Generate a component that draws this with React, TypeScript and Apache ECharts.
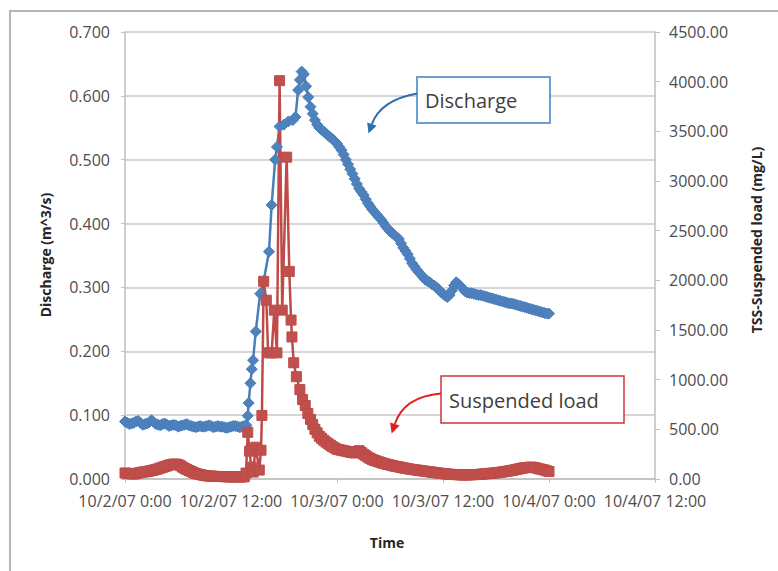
import React, { useEffect, useRef } from "react";
import * as echarts from "echarts";

// Time in hours since 10/2/07 0:00
const xTickLabels = ["10/2/07 0:00", "10/2/07 12:00", "10/3/07 0:00", "10/3/07 12:00", "10/4/07 0:00", "10/4/07 12:00"];

const dischargeHours = [
  0, 0.25, 0.5, 0.75, 1, 1.25, 1.5, 1.75, 2, 2.25, 2.5, 2.75,
  3, 3.25, 3.5, 3.75, 4, 4.25, 4.5, 4.75, 5, 5.25, 5.5, 5.75,
  6, 6.25, 6.5, 6.75, 7, 7.25, 7.5, 7.75, 8, 8.25, 8.5, 8.75,
  9, 9.25, 9.5, 9.75, 10, 10.25, 10.5, 10.75, 11, 11.25, 11.5, 11.75,
  12, 12.25, 12.5, 12.75, 13, 13.25, 13.5, 13.75,
  13.9, 14.0, 14.2, 14.35, 14.5, 14.8, 15.3, 15.7, 16.3, 16.6, 17.0, 17.2, 17.5, 18.0, 18.5, 19.0, 19.3, 19.6, 19.8, 20.0,
  20.25, 20.5, 20.75, 21.0, 21.25, 21.5, 21.75,
  22, 22.25, 22.5, 22.75, 23, 23.25, 23.5, 23.75,
  24, 24.25, 24.5, 24.75, 25, 25.25, 25.5, 25.75,
  26, 26.25, 26.5, 26.75, 27, 27.25, 27.5, 27.75,
  28, 28.25, 28.5, 28.75, 29, 29.25, 29.5, 29.75,
  30, 30.25, 30.5, 30.75, 31, 31.25, 31.5, 31.75,
  32, 32.25, 32.5, 32.75, 33, 33.25, 33.5, 33.75,
  34, 34.25, 34.5, 34.75, 35, 35.25, 35.5, 35.75,
  36, 36.25, 36.5, 36.75, 37, 37.25, 37.5, 37.75,
  38, 38.25, 38.5, 38.75, 39, 39.25, 39.5, 39.75,
  40, 40.25, 40.5, 40.75, 41, 41.25, 41.5, 41.75,
  42, 42.25, 42.5, 42.75, 43, 43.25, 43.5, 43.75,
  44, 44.25, 44.5, 44.75, 45, 45.25, 45.5, 45.75,
  46, 46.25, 46.5, 46.75, 47, 47.25, 47.5, 47.75, 48,
];
const dischargeValues = [
  0.090, 0.088, 0.086, 0.087, 0.088, 0.090, 0.091, 0.088, 0.085, 0.086, 0.087, 0.089,
  0.092, 0.089, 0.086, 0.085, 0.084, 0.086, 0.087, 0.085, 0.083, 0.084, 0.085, 0.084,
  0.082, 0.083, 0.084, 0.085, 0.086, 0.084, 0.083, 0.082, 0.081, 0.082, 0.083, 0.082,
  0.082, 0.083, 0.084, 0.083, 0.081, 0.082, 0.083, 0.082, 0.082, 0.081, 0.080, 0.081,
  0.082, 0.083, 0.083, 0.082, 0.081, 0.082, 0.083, 0.084,
  0.099, 0.119, 0.150, 0.172, 0.186, 0.231, 0.290, 0.310, 0.356, 0.429, 0.500, 0.520, 0.552, 0.555, 0.560, 0.562, 0.567, 0.609, 0.625, 0.638,
  0.634, 0.615, 0.598, 0.583, 0.572, 0.562, 0.555,
  0.550, 0.547, 0.544, 0.541, 0.538, 0.535, 0.532, 0.529,
  0.525, 0.520, 0.515, 0.508, 0.500, 0.493, 0.485, 0.478,
  0.470, 0.462, 0.455, 0.450, 0.445, 0.438, 0.432, 0.427,
  0.422, 0.418, 0.414, 0.410, 0.406, 0.401, 0.396, 0.392,
  0.388, 0.385, 0.382, 0.379, 0.376, 0.369, 0.362, 0.357,
  0.352, 0.345, 0.338, 0.333, 0.328, 0.324, 0.320, 0.316,
  0.312, 0.310, 0.308, 0.305, 0.303, 0.300, 0.297, 0.293,
  0.290, 0.287, 0.285, 0.288, 0.295, 0.303, 0.308, 0.305,
  0.302, 0.298, 0.294, 0.292, 0.291, 0.291, 0.290, 0.289,
  0.288, 0.288, 0.287, 0.286, 0.285, 0.284, 0.283, 0.282,
  0.281, 0.280, 0.279, 0.278, 0.277, 0.276, 0.275, 0.275,
  0.274, 0.273, 0.272, 0.271, 0.270, 0.269, 0.268, 0.267,
  0.266, 0.265, 0.264, 0.263, 0.262, 0.261, 0.260, 0.259, 0.259,
];

const tssHours = [
  0, 0.25, 0.5, 0.75, 1, 1.25, 1.5, 1.75, 2, 2.25, 2.5, 2.75,
  3, 3.25, 3.5, 3.75, 4, 4.25, 4.5, 4.75, 5, 5.25, 5.5, 5.75,
  6, 6.25, 6.5, 6.75, 7, 7.25, 7.5, 7.75, 8, 8.25, 8.5, 8.75,
  9, 9.25, 9.5, 9.75, 10, 10.25, 10.5, 10.75, 11, 11.25, 11.5, 11.75,
  12, 12.25, 12.5, 12.75, 13, 13.25, 13.5,
  13.7, 13.9, 14.1, 14.3, 14.5, 14.8, 15.2, 15.4, 15.5, 15.7, 16.0, 16.2, 16.6, 16.9, 17.2, 17.5, 17.8, 18.3, 18.6, 18.8,
  18.9, 19.1, 19.4, 19.8, 20.1, 20.4, 20.7, 21.0, 21.25, 21.5, 21.75,
  22, 22.25, 22.5, 22.75, 23, 23.25, 23.5, 23.75,
  24, 24.25, 24.5, 24.75, 25, 25.25, 25.5, 25.75,
  26, 26.25, 26.5, 26.75, 27, 27.25, 27.5, 27.75,
  28, 28.25, 28.5, 28.75, 29, 29.25, 29.5, 29.75,
  30, 30.25, 30.5, 30.75, 31, 31.25, 31.5, 31.75,
  32, 32.25, 32.5, 32.75, 33, 33.25, 33.5, 33.75,
  34, 34.25, 34.5, 34.75, 35, 35.25, 35.5, 35.75,
  36, 36.25, 36.5, 36.75, 37, 37.25, 37.5, 37.75,
  38, 38.25, 38.5, 38.75, 39, 39.25, 39.5, 39.75,
  40, 40.25, 40.5, 40.75, 41, 41.25, 41.5, 41.75,
  42, 42.25, 42.5, 42.75, 43, 43.25, 43.5, 43.75,
  44, 44.25, 44.5, 44.75, 45, 45.25, 45.5, 45.75,
  46, 46.25, 46.5, 46.75, 47, 47.25, 47.5, 47.75, 48,
];
const tssValues = [
  60, 58, 55, 52, 50, 55, 60, 65, 70, 72, 75, 80,
  85, 90, 95, 102, 110, 118, 125, 132, 140, 146, 150, 150,
  145, 135, 120, 108, 95, 85, 75, 65, 55, 50, 45, 40,
  35, 32, 30, 29, 28, 26, 25, 25, 25, 24, 22, 22,
  22, 22, 22, 21, 20, 21, 22,
  60, 470, 280, 120, 70, 320, 90, 290, 640, 1990, 1800, 1270, 1270, 1700, 1270, 4010, 1700, 3240, 2090, 1600,
  1430, 1170, 1030, 900, 800, 740, 660, 600, 550, 500, 465,
  430, 410, 390, 372, 355, 340, 325, 312,
  300, 295, 290, 285, 280, 275, 270, 266,
  262, 275, 285, 268, 250, 235, 220, 207,
  195, 187, 180, 172, 165, 158, 152, 146,
  141, 135, 130, 126, 122, 117, 112, 108,
  104, 100, 96, 93, 90, 87, 84, 81,
  78, 75, 72, 69, 66, 63, 60, 57,
  55, 52, 50, 48, 46, 45, 44, 43,
  42, 41, 41, 41, 42, 43, 44, 45,
  46, 48, 50, 52, 54, 56, 58, 60,
  62, 65, 68, 71, 75, 78, 82, 86,
  90, 95, 100, 105, 110, 113, 115, 118,
  120, 116, 112, 106, 100, 95, 90, 82, 75,
];

const FONT = "'Open Sans', 'DejaVu Sans', sans-serif";

function arrowHead(tx: number, ty: number, cx: number, cy: number, len: number, half: number) {
  const dx = tx - cx, dy = ty - cy;
  const n = Math.sqrt(dx * dx + dy * dy);
  const ux = dx / n, uy = dy / n;
  const bx = tx - ux * len, by = ty - uy * len;
  const px = -uy, py = ux;
  return {
    base: [bx, by],
    points: [[tx, ty], [bx + px * half, by + py * half], [bx - px * half, by - py * half]],
  };
}

export default function App() {
  const ref = useRef<HTMLDivElement>(null);
  useEffect(() => {
    if (!ref.current) return;
    const chart = echarts.init(ref.current, null, { renderer: "svg" });
    const dData = dischargeHours.map((h, i) => [h, dischargeValues[i]]);
    const tData = tssHours.map((h, i) => [h, tssValues[i]]);

    const a1 = arrowHead(368.5, 133.5, 380.6, 100.1, 10, 5);
    const a2 = arrowHead(391.7, 433.5, 403.8, 396.7, 10, 5);

    chart.setOption({
      animation: false,
      backgroundColor: "#ffffff",
      grid: { left: 125, right: 123, top: 32, bottom: 92, containLabel: false },
      xAxis: {
        type: "value",
        min: 0,
        max: 60,
        interval: 12,
        axisLine: { show: true, onZero: false, lineStyle: { color: "#bfbfbf", width: 1.5 } },
        axisTick: { show: true, length: 4, lineStyle: { color: "#bfbfbf" } },
        splitLine: { show: false },
        axisLabel: {
          margin: 14,
          color: "#4d4d4d",
          fontFamily: FONT,
          fontSize: 16,
          formatter: (v: number) => xTickLabels[Math.round(v / 12)] ?? "",
        },
      },
      yAxis: [
        {
          type: "value",
          min: 0,
          max: 0.7,
          interval: 0.1,
          axisLine: { show: true, lineStyle: { color: "#bfbfbf", width: 1.5 } },
          axisTick: { show: true, length: 4, lineStyle: { color: "#bfbfbf" } },
          splitLine: { show: true, lineStyle: { color: "#c8c8c8", width: 1.5 } },
          axisLabel: {
            margin: 15,
            color: "#4d4d4d",
            fontFamily: FONT,
            fontSize: 16,
            formatter: (v: number) => v.toFixed(3),
          },
        },
        {
          type: "value",
          position: "right",
          min: 0,
          max: 4500,
          interval: 500,
          axisLine: { show: true, lineStyle: { color: "#bfbfbf", width: 1.5 } },
          axisTick: { show: true, length: 5, lineStyle: { color: "#bfbfbf" } },
          splitLine: { show: false },
          axisLabel: {
            margin: 14,
            color: "#4d4d4d",
            fontFamily: FONT,
            fontSize: 16,
            formatter: (v: number) => v.toFixed(2),
          },
        },
      ],
      series: [
        {
          name: "Discharge",
          type: "line",
          yAxisIndex: 0,
          data: dData,
          symbol: "diamond",
          symbolSize: 11,
          lineStyle: { color: "#4a7ebb", width: 2.5 },
          itemStyle: { color: "#4f81bd", borderColor: "#4a7ebb", borderWidth: 1 },
        },
        {
          name: "Suspended load",
          type: "line",
          yAxisIndex: 1,
          data: tData,
          symbol: "rect",
          symbolSize: 10,
          lineStyle: { color: "#be4b48", width: 2.5 },
          itemStyle: { color: "#c0504d", borderColor: "#be4b48", borderWidth: 1 },
        },
      ],
      graphic: [
        {
          type: "rect",
          silent: true,
          z: -10,
          shape: { x: 10, y: 11, width: 800, height: 600 },
          style: { fill: "none", stroke: "#b5b5b5", lineWidth: 2 },
        },
        {
          type: "text",
          x: 45,
          y: 255,
          rotation: Math.PI / 2,
          style: {
            text: "Discharge (m^3/s)",
            x: 0,
            y: 0,
            align: "center",
            verticalAlign: "middle",
            fontFamily: FONT,
            fontWeight: "bold",
            fontSize: 14,
            fill: "#262626",
          },
        },
        {
          type: "text",
          x: 756,
          y: 240,
          rotation: Math.PI / 2,
          style: {
            text: "TSS-Suspended load (mg/L)",
            x: 0,
            y: 0,
            align: "center",
            verticalAlign: "middle",
            fontFamily: FONT,
            fontWeight: "bold",
            fontSize: 14,
            fill: "#262626",
          },
        },
        {
          type: "text",
          x: 387,
          y: 542,
          style: {
            text: "Time",
            align: "center",
            verticalAlign: "middle",
            fontFamily: FONT,
            fontWeight: "bold",
            fontSize: 14,
            fill: "#262626",
          },
        },
        // Discharge callout
        {
          type: "rect",
          z: 20,
          shape: { x: 417, y: 77, width: 133, height: 46 },
          style: { fill: "#ffffff", stroke: "#6a9fd4", lineWidth: 2 },
        },
        {
          type: "text",
          z: 21,
          x: 425,
          y: 100,
          style: {
            text: "Discharge",
            verticalAlign: "middle",
            fontFamily: FONT,
            fontSize: 20,
            fill: "#404040",
          },
        },
        {
          type: "bezierCurve",
          z: 20,
          shape: { x1: 417, y1: 93.5, x2: a1.base[0], y2: a1.base[1], cpx1: 380.6, cpy1: 100.1 },
          style: { stroke: "#2e6fad", lineWidth: 2, fill: "none" },
        },
        {
          type: "polygon",
          z: 20,
          shape: { points: a1.points },
          style: { fill: "#2e6fad" },
        },
        // Suspended load callout
        {
          type: "rect",
          z: 20,
          shape: { x: 441, y: 376, width: 183, height: 47 },
          style: { fill: "#ffffff", stroke: "#d0343a", lineWidth: 1.5 },
        },
        {
          type: "text",
          z: 21,
          x: 449,
          y: 400,
          style: {
            text: "Suspended load",
            verticalAlign: "middle",
            fontFamily: FONT,
            fontSize: 20,
            fill: "#404040",
          },
        },
        {
          type: "bezierCurve",
          z: 20,
          shape: { x1: 441, y1: 393.5, x2: a2.base[0], y2: a2.base[1], cpx1: 403.8, cpy1: 396.7 },
          style: { stroke: "#e02020", lineWidth: 2, fill: "none" },
        },
        {
          type: "polygon",
          z: 20,
          shape: { points: a2.points },
          style: { fill: "#e02020" },
        },
      ],
    });
    return () => chart.dispose();
  }, []);
  return (
    <div
      ref={ref}
      style={{ position: "absolute", left: 0, top: 0, width: 778, height: 571, background: "#fff" }}
    />
  );
}
